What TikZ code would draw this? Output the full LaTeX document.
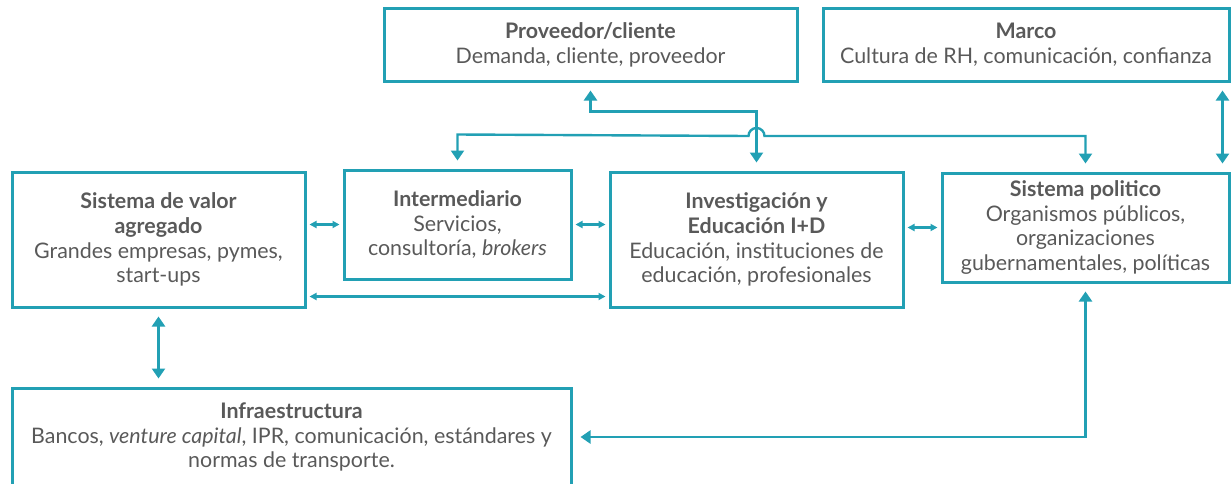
\documentclass[tikz,border=0pt]{standalone}
\usepackage{fontspec}
\setmainfont{Lato}
\usetikzlibrary{arrows.meta}
\definecolor{boxteal}{HTML}{22A0B4}
\definecolor{textgrey}{HTML}{595959}

\begin{document}
\begin{tikzpicture}[x=0.5pt,y=-0.5pt,
	box/.style={draw=boxteal, line width=1.5pt, align=center, text=textgrey, inner sep=0pt,
		font=\fontsize{10.7}{12.4}\selectfont},
	link/.style={draw=boxteal, line width=1.2pt, {Triangle[width=6.5pt,length=5pt]}-{Triangle[width=6.5pt,length=5pt]},
		shorten >=4pt, shorten <=4pt},
	shortlink/.style={draw=boxteal, line width=1.2pt, {Triangle[width=3.5pt,length=3.5pt]}-{Triangle[width=3.5pt,length=3.5pt]},
		shorten >=1.5pt, shorten <=1.5pt}]
	\useasboundingbox (0,0) rectangle (1231,483);
	% boxes
	\node[box, minimum width=206.5pt, minimum height=36.5pt] (prov) at (590.5,44.5) {\textbf{Proveedor/cliente}\\Demanda, cliente, proveedor};
	\node[box, minimum width=203pt, minimum height=36.5pt] (marco) at (1026,44.5) {\textbf{Marco}\\Cultura de RH, comunicación, confianza};
	\node[box, minimum width=146.5pt, minimum height=67.5pt] (valor) at (158.5,239.5) {\textbf{Sistema de valor}\\\textbf{agregado}\\Grandes empresas, pymes,\\start-ups};
	\node[box, minimum width=113.5pt, minimum height=54.5pt] (inter) at (457.5,224.5) {\textbf{Intermediario}\\Servicios,\\consultoría, \textit{brokers}};
	\node[box, minimum width=146.5pt, minimum height=67.5pt] (inv) at (756.5,239.5) {\textbf{Investigación y}\\\textbf{Educación I+D}\\Educación, instituciones de\\educación, profesionales};
	\node[box, minimum width=143.5pt, minimum height=54.5pt] (pol) at (1085.5,227.5) {\textbf{Sistema politico}\\Organismos públicos,\\organizaciones\\gubernamentales, políticas};
	\node[box, minimum width=279.5pt, minimum height=49pt] (infra) at (291.5,437) {\textbf{Infraestructura}\\Bancos, \textit{venture capital}, IPR, comunicación, estándares y\\normas de transporte.};
	% short links
	\draw[shortlink] (valor.east |- inter.west) -- (inter.west);
	\draw[shortlink] (inter.east) -- (inter.east -| inv.west);
	\draw[shortlink] (inv.east |- pol.west) -- (pol.west);
	\draw[shortlink] ([yshift=6pt]valor.south east) -- ([yshift=6pt]inv.south west);
	% long links
	\draw[link] (valor.south) -- (infra.north -| valor.south);
	\draw[link] ([xshift=-4pt]marco.south east) -- ([xshift=-4pt]pol.north east);
	\draw[link] (prov.south) -- ++(0,29) -| (inv.north);
	\draw[link] (inter.north) -- ++(0,-34) -- (748.5,136) arc[start angle=180, end angle=0, radius=4pt] -| (pol.north);
	\draw[link] (pol.south) |- (infra.east);
\end{tikzpicture}
\end{document}
